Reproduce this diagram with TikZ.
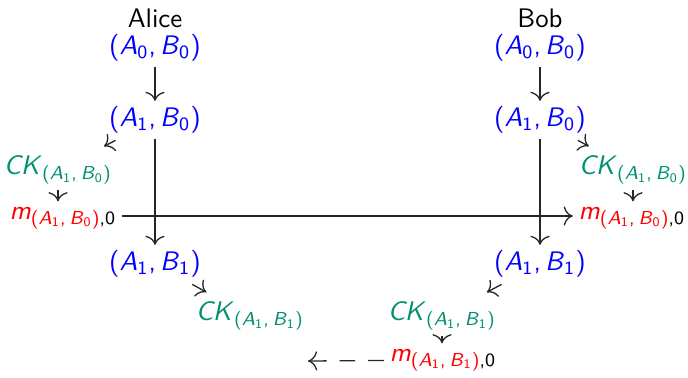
\documentclass[tikz,border=0pt]{standalone}
\usetikzlibrary{arrows.meta}
\definecolor{ckgreen}{RGB}{0,145,115}
\newcommand\pairtxt[2]{(\textsl{A}\textsubscript{#1},\kern1.5pt\textsl{B}\textsubscript{#2})}
\newcommand\cktxt[2]{\textsl{CK}\textsubscript{\pairtxt{#1}{#2}}}
\newcommand\msgtxt[2]{\textcolor{red}{\textsl{m}}\textsubscript{\textcolor{red}{\pairtxt{#1}{#2}},0}}
\begin{document}
\begin{tikzpicture}[x={(0.0135cm,0)}, y={(0,-0.0135cm)}, >={Computer Modern Rightarrow[scale=1.3]},
	every node/.style={font=\sffamily\fontsize{10.3}{12}\selectfont, inner sep=2pt},
	pair/.style={text=blue},
	key/.style={text=ckgreen},
	wire/.style={->, draw=black!85, line width=0.5pt}]
	\useasboundingbox (0,0) rectangle (688,377);
	% Paths, nodes and wires:
	\node (alice) at (155, 18){Alice};
	\node[pair] (a00) at (155, 48){\pairtxt{0}{0}};
	\node[pair] (a10) at (155, 120){\pairtxt{1}{0}};
	\node[key] (ack0) at (58, 170){\cktxt{1}{0}};
	\node (am0) at (63, 218){\msgtxt{1}{0}};
	\node[pair] (a11) at (155, 264){\pairtxt{1}{1}};
	\node[key] (ack1) at (250, 316){\cktxt{1}{1}};
	\node (bob) at (540, 18){Bob};
	\node[pair] (b00) at (540, 48){\pairtxt{0}{0}};
	\node[pair] (b10) at (540, 120){\pairtxt{1}{0}};
	\node[key] (bck0) at (633, 170){\cktxt{1}{0}};
	\node (bm0) at (632, 218){\msgtxt{1}{0}};
	\node[pair] (b11) at (540, 264){\pairtxt{1}{1}};
	\node[key] (bck1) at (442, 316){\cktxt{1}{1}};
	\node (bm1) at (443, 360){\msgtxt{1}{1}};
	\coordinate (lost) at (308, 361);
	\draw[wire] (a00) -- (a10);
	\draw[wire] (a10) -- (a11);
	\draw[wire, shorten <=1pt, shorten >=3pt] (a10) -- (ack0);
	\draw[wire] (ack0) -- (ack0 |- am0.north);
	\draw[wire] (am0.east |- 0,216) -- (bm0.west |- 0,216);
	\draw[wire] (b00) -- (b10);
	\draw[wire] (b10) -- (b11);
	\draw[wire, shorten <=1pt, shorten >=3pt] (b10) -- (bck0);
	\draw[wire] (bck0) -- (bck0 |- bm0.north);
	\draw[wire, shorten <=1pt, shorten >=3pt] (a11) -- (ack1);
	\draw[wire, shorten <=1pt, shorten >=3pt] (b11) -- (bck1);
	\draw[wire] (bck1) -- (bck1 |- bm1.north);
	\draw[wire, dash pattern=on 6pt off 5pt] (bm1) -- (lost);
\end{tikzpicture}
\end{document}
